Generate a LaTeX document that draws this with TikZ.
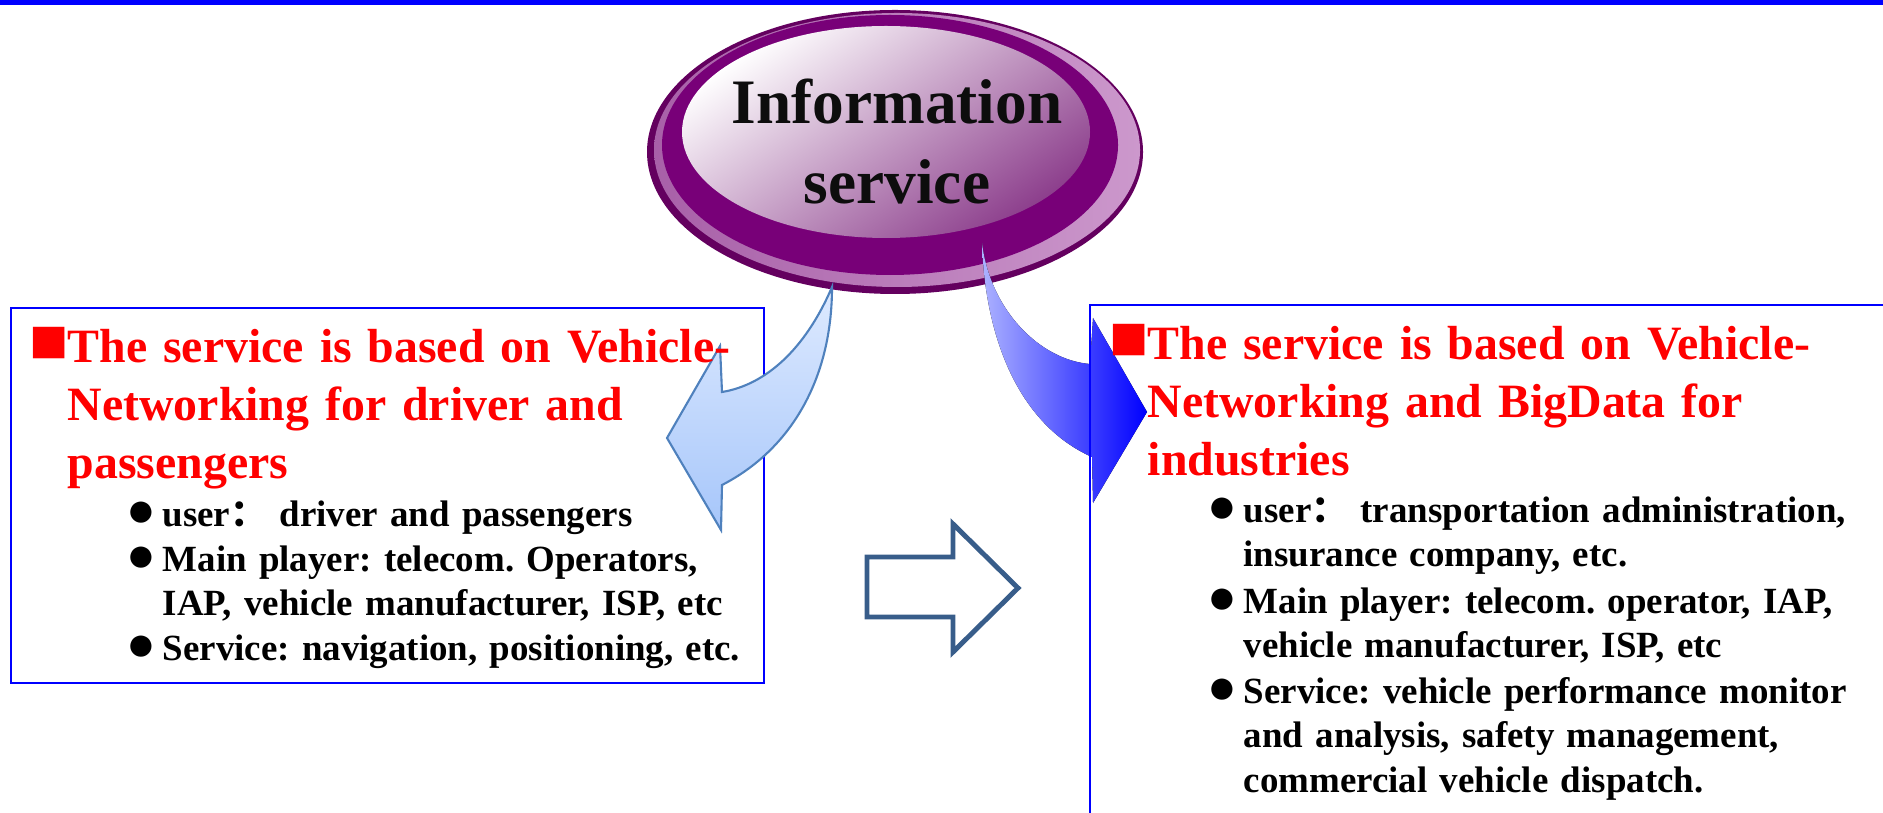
\documentclass[tikz,border=0pt]{standalone}
\usepackage{fontspec}
\setmainfont{Liberation Serif}
\newfontfamily\cjk{Noto Sans CJK SC}
\frenchspacing

\definecolor{plumdark}{RGB}{100,0,95}
\definecolor{plum}{RGB}{120,0,120}
\definecolor{plumlight}{RGB}{204,152,204}
\definecolor{plummid}{RGB}{168,96,168}
\definecolor{plumshade}{RGB}{140,62,140}
\definecolor{skyline}{RGB}{79,129,189}
\definecolor{skytop}{RGB}{222,234,255}
\definecolor{skybottom}{RGB}{166,198,250}
\definecolor{lilac}{RGB}{172,178,255}
\definecolor{steel}{RGB}{56,93,138}

\begin{document}
\begin{tikzpicture}[x=0.01cm,y=-0.01cm,
    box/.style={draw=blue,line width=0.6pt},
    head text/.style={anchor=base west,inner sep=0pt,text=red,text width=190pt,align=left,
                      font=\fontsize{13.6}{16.4}\selectfont\bfseries},
    item text/.style={anchor=base west,inner sep=0pt,text width=175pt,align=left,
                      font=\fontsize{10.5}{12.7}\selectfont\bfseries},
    square/.style={anchor=base west,inner sep=0pt,text=red,font=\fontsize{18.5}{20}\selectfont},
    dot/.style={anchor=base west,inner sep=0pt,font=\fontsize{14}{14}\selectfont}]

  \useasboundingbox (0,0) rectangle (1883,813);
  \clip (0,0) rectangle (1883,813);

  % top rule
  \fill[blue] (0,0) rectangle (1883,5);

  % the button
  \fill[plumdark] (895,152) ellipse [x radius=248,y radius=142];
  \shade[left color=plummid,right color=plumlight] (897,150) ellipse [x radius=243,y radius=137];
  \fill[plum] (890,145) ellipse [x radius=228,y radius=130];
  \shade[top color=white,bottom color=plumshade,shading angle=35] (886,132) ellipse [x radius=204,y radius=106];
  \node[anchor=base,inner sep=0pt,text width=100pt,align=center,text=black!95,
        font=\fontsize{18}{22.5}\selectfont\bfseries] (info) at (897,124) {Information\\service};

  % curved arrow to the right
  \fill[left color=lilac,right color=blue]
    (982,243) .. controls (990,310) and (1040,360) .. (1090,364) -- (1093,318) -- (1147,412)
    -- (1093,503) -- (1092,457) .. controls (1020,425) and (985,340) .. (982,243) -- cycle;

  % boxes
  \draw[box] (11,308) rectangle (764,683);
  \draw[box] (1090,305) rectangle (1900,830);

  % curved arrow to the left
  \draw[draw=skyline,line width=0.6pt,top color=skytop,bottom color=skybottom,line join=miter]
    (832,287) .. controls (805,350) and (765,385) .. (722,392) -- (720,346) -- (667,438)
    -- (721,530) -- (722,485) .. controls (790,450) and (832,380) .. (832,287) -- cycle;

  % hollow arrow between the boxes
  \draw[steel,line width=1.4pt,line join=miter]
    (867,557) -- (953,557) -- (953,524) -- (1018,588) -- (953,652) -- (953,617) -- (867,617) -- cycle;

  % left box text
  \node[square] (sq1) at (29,363) {■};
  \node[head text] (h1) at (67,363) {The service is based on Vehicle-\\Networking for driver and\\passengers};
  \node[dot] (d1) at (126,527) {●};
  \node[item text] (u1) at (162,527) {user{\cjk ：} driver and passengers};
  \node[dot] (d2) at (126,571) {●};
  \node[item text] (p1) at (162,571) {Main player: telecom. Operators,\\IAP, vehicle manufacturer, ISP, etc};
  \node[dot] (d3) at (126,660) {●};
  \node[item text] (s1) at (162,660) {Service: navigation, positioning, etc.};

  % right box text
  \node[square] (sq2) at (1109,360) {■};
  \node[head text] (h2) at (1147,360) {The service is based on Vehicle-\\Networking and BigData for\\industries};
  \node[dot] (d4) at (1207,522) {●};
  \node[item text] (u2) at (1243,522) {user{\cjk ：} transportation administration,\\insurance company, etc.};
  \node[dot] (d5) at (1207,613) {●};
  \node[item text] (p2) at (1243,613) {Main player: telecom. operator, IAP,\\vehicle manufacturer, ISP, etc};
  \node[dot] (d6) at (1207,703) {●};
  \node[item text] (s2) at (1243,703) {Service: vehicle performance monitor\\and analysis, safety management,\\commercial vehicle dispatch.};
\end{tikzpicture}
\end{document}
